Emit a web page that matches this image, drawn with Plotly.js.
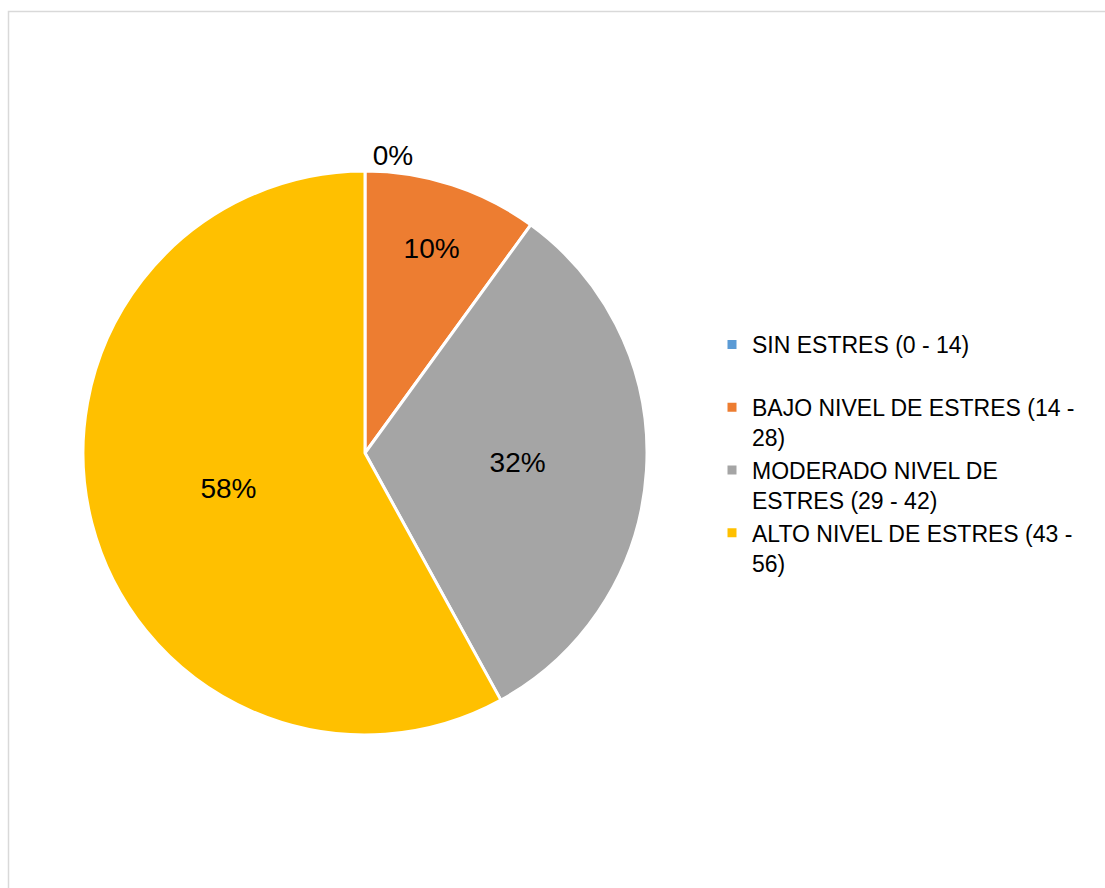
<!DOCTYPE html>
<html>
<head>
<meta charset="utf-8">
<script src="https://cdn.plot.ly/plotly-3.0.1.min.js"></script>
<style>html,body{margin:0;padding:0;background:#fff;}#chart{width:1105px;height:888px;}</style>
</head>
<body>
<div id="chart"></div>
<script>
const categories = [
  "SIN ESTRES (0 - 14)<br> ",
  "BAJO NIVEL DE ESTRES (14 -<br>28)",
  "MODERADO NIVEL DE<br>ESTRES (29 - 42)",
  "ALTO NIVEL DE ESTRES (43 -<br>56)"
];
const counts = [0, 5, 16, 29];
const colors = ["#5B9BD5", "#ED7D31", "#A5A5A5", "#FFC000"];
const textPositions = ["outside", "inside", "inside", "inside"];

const W = 1105, H = 888;
const cx = 365, cy = 453, r = 282;

const trace = {
  type: "pie",
  labels: categories,
  values: counts,
  sort: false,
  direction: "clockwise",
  rotation: 0,
  marker: { colors: colors, line: { color: "#ffffff", width: 3 } },
  textinfo: "percent",
  texttemplate: "%{percent:.0%}",
  textposition: textPositions,
  insidetextorientation: "horizontal",
  textfont: { family: "Liberation Sans, Arial, sans-serif", size: 28, color: "#000000" },
  outsidetextfont: { family: "Liberation Sans, Arial, sans-serif", size: 28, color: "#000000" },
  showlegend: true,
  hoverinfo: "label+percent",
  domain: {
    x: [(cx - r) / W, (cx + r) / W],
    y: [(H - cy - r) / H, (H - cy + r) / H]
  }
};

const layout = {
  width: W, height: H,
  margin: { l: 0, r: 0, t: 0, b: 0 },
  paper_bgcolor: "#ffffff",
  font: { family: "Liberation Sans, Arial, sans-serif", color: "#000000" },
  showlegend: true,
  legend: {
    x: 712 / W, xanchor: "left",
    y: 1 - 323 / H, yanchor: "top",
    valign: "top",
    font: { size: 23, color: "#000000", family: "Liberation Sans, Arial, sans-serif" },
    bgcolor: "rgba(0,0,0,0)",
    itemwidth: 30,
    tracegroupgap: 0
  },
  shapes: [{
    type: "rect", xref: "paper", yref: "paper",
    x0: 8.5 / W, x1: 1.02, y0: -0.02, y1: 1 - 11.5 / H,
    line: { color: "#d9d9d9", width: 1.5 }, fillcolor: "rgba(0,0,0,0)"
  }]
};

Plotly.newPlot("chart", [trace], layout, { displayModeBar: false, responsive: false });
</script>
</body>
</html>
